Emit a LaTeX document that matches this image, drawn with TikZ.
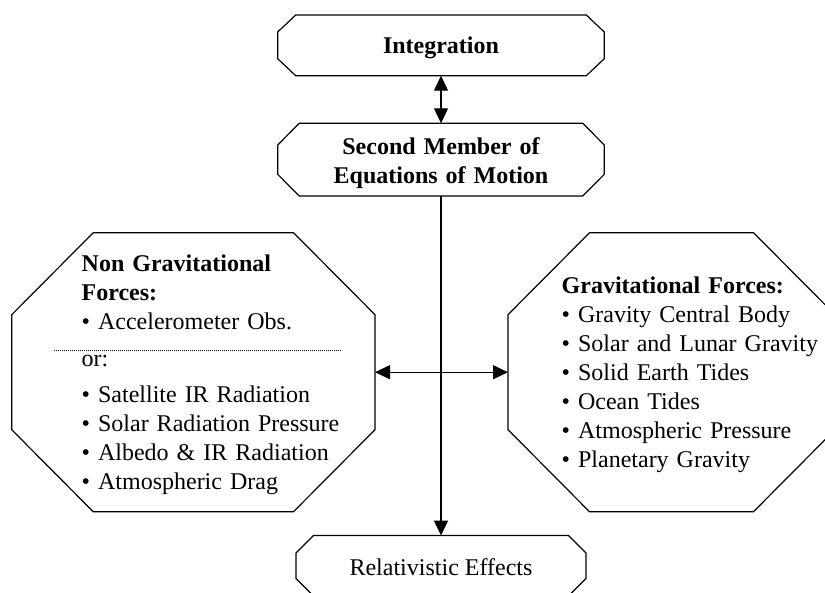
\documentclass[tikz,border=0pt]{standalone}
\usepackage{fontspec}
\setmainfont{Liberation Serif}
\usetikzlibrary{arrows.meta}

\tikzset{
  frame/.style={rectangle, draw=none, inner sep=0pt, outer sep=0pt},
  outline/.style={line width=1.2pt, line join=miter},
  txt/.style={inner sep=0pt, outer sep=0pt, font=\fontsize{24}{29}\selectfont},
  listtxt/.style={txt, text width=300pt, align=left, anchor=base west},
  tip/.tip={Triangle[length=15pt,width=14pt]},
  link/.style={line width=1.2pt, -tip},
  duallink/.style={line width=1.2pt, tip-tip},
  dotline/.style={line width=0.8pt, dash pattern=on 0.8pt off 1.2pt},
}

% octagonal outline around a named frame node: #2 = horizontal cut, #3 = vertical cut
\newcommand\chamferbox[3]{%
  \draw[outline] ([xshift=#2]#1.north west) -- ([xshift=-#2]#1.north east)
    -- ([yshift=-#3]#1.north east) -- ([yshift=#3]#1.south east)
    -- ([xshift=-#2]#1.south east) -- ([xshift=#2]#1.south west)
    -- ([yshift=#3]#1.south west) -- ([yshift=-#3]#1.north west) -- cycle;}

\begin{document}
\begin{tikzpicture}[x=1pt, y=-1pt]
  \useasboundingbox (0,0) rectangle (825,592);
  \clip (0,0) rectangle (825,592);

  % frames
  \node[frame, minimum width=326.6pt, minimum height=60.7pt] (integ) at (441,45.35) {};
  \node[frame, minimum width=326.6pt, minimum height=72.7pt] (second) at (441,159.65) {};
  \node[frame, minimum width=363.3pt, minimum height=279pt] (nongrav) at (193.35,372.2) {};
  \node[frame, minimum width=327pt, minimum height=279pt] (grav) at (671.5,372.2) {};
  \node[frame, minimum width=290pt, minimum height=60.5pt] (relat) at (441,565.8) {};

  \chamferbox{integ}{18pt}{17pt}
  \chamferbox{second}{21.5pt}{21.7pt}
  \chamferbox{nongrav}{81.5pt}{82pt}
  \chamferbox{grav}{81.5pt}{82pt}
  \chamferbox{relat}{17.5pt}{17.5pt}

  % texts
  \node[txt, anchor=base] (integtxt) at (441,53.3) {\bfseries Integration};
  \node[txt, anchor=base, text width=320pt, align=center] (secondtxt) at (441,154)
    {\bfseries Second Member of\\Equations of Motion};
  \node[txt, anchor=base] (relattxt) at (441,575) {Relativistic Effects};

  \node[listtxt] (nongravtxt) at (81.7,271.7) {%
    \textbf{Non Gravitational}\\
    \textbf{Forces:}\\
    • Accelerometer Obs.\\[7.5pt]
    or:\\[7pt]
    • Satellite IR Radiation\\
    • Solar Radiation Pressure\\
    • Albedo \& IR Radiation\\
    • Atmospheric Drag};

  \node[listtxt] (gravtxt) at (561.7,293.3) {%
    \textbf{Gravitational Forces:}\\
    • Gravity Central Body\\
    • Solar and Lunar Gravity\\
    • Solid Earth Tides\\
    • Ocean Tides\\
    • Atmospheric Pressure\\
    • Planetary Gravity};

  % separator between the two force options
  \draw[dotline] (54,350) -- (342,350);

  % connectors
  \draw[duallink] (integ.south) -- (second.north);
  \draw[link] (second.south) -- (relat.north);
  \draw[duallink] (nongrav.east) -- (grav.west);
\end{tikzpicture}
\end{document}
